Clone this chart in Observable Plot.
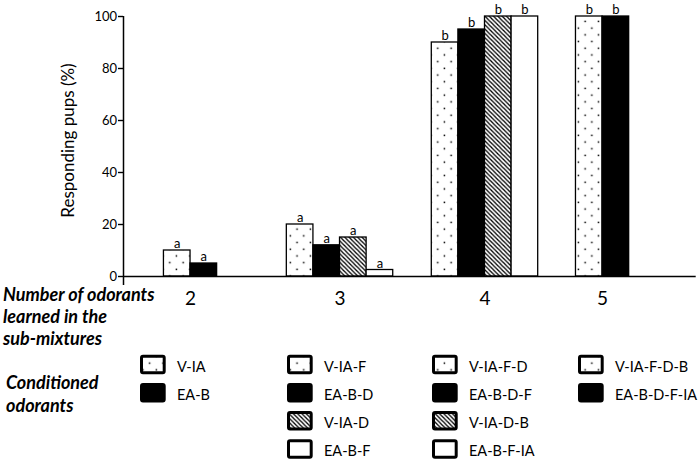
<!DOCTYPE html>
<html>
<head>
<meta charset="utf-8">
<script src="https://cdn.jsdelivr.net/npm/d3@7"></script>
<script src="https://cdn.jsdelivr.net/npm/@observablehq/plot@0.6"></script>
<style>
  html, body { margin: 0; padding: 0; background: white; }
  #wrap { position: relative; width: 700px; height: 464px; overflow: hidden; font-family: Lato, sans-serif; }
  #overlay { position: absolute; left: 0; top: 0; pointer-events: none; }
</style>
</head>
<body>
<div id="wrap"></div>
<script>
// ---- data ----
const groups = ["2", "3", "4", "5"];
const patterns = ["dots", "black", "hatch", "white"];
const conditioned = [
  ["V-IA", "EA-B"],
  ["V-IA-F", "EA-B-D", "V-IA-D", "EA-B-F"],
  ["V-IA-F-D", "EA-B-D-F", "V-IA-D-B", "EA-B-F-IA"],
  ["V-IA-F-D-B", "EA-B-D-F-IA"]
];
const values = [
  [10, 5],
  [20, 12, 15, 2.5],
  [90, 95, 100, 100],
  [100, 100]
];
const letters = [
  ["a", "a"],
  ["a", "a", "a", "a"],
  ["b", "b", "b", "b"],
  ["b", "b"]
];
const yTicks = [0, 20, 40, 60, 80, 100];
const yLabel = "Responding pups (%)";
const xTitle = ["Number of odorants", "learned in the", "sub-mixtures"];
const legendTitle = ["Conditioned", "odorants"];

// ---- layout (bar slot units) ----
const layout = { groupCenter: [2.52, 8.14, 13.59, 18.01], xMax: 21.53 };
const fillFor = { dots: "url(#pat-dots)", black: "black", hatch: "url(#pat-hatch)", white: "white" };

const rows = [];
groups.forEach((g, gi) => {
  const n = values[gi].length;
  values[gi].forEach((v, i) => {
    const x1 = layout.groupCenter[gi] - n / 2 + i;
    rows.push({ group: g, pattern: patterns[i], name: conditioned[gi][i], value: v, letter: letters[gi][i], x1, x2: x1 + 1 });
  });
});

const wrap = document.getElementById("wrap");

const chart = Plot.plot({
  width: 700, height: 310,
  marginLeft: 123, marginRight: 4.3, marginTop: 16, marginBottom: 34,
  style: { fontFamily: "Lato, sans-serif", fontSize: "13px", color: "black", background: "white", overflow: "visible" },
  x: { domain: [0, layout.xMax], axis: null },
  y: { domain: [0, 100], axis: null },
  marks: [
    Plot.axisY({ ticks: yTicks, tickSize: 5, tickPadding: 1.5, label: null, fontSize: 13, strokeWidth: 1.4 }),
    ...patterns.map(p => Plot.rect(rows.filter(d => d.pattern === p), {
      x1: "x1", x2: "x2", y1: 0, y2: "value",
      fill: fillFor[p], stroke: "black", strokeWidth: 1.3
    })),
    Plot.ruleY([0], { stroke: "black", strokeWidth: 1.5 }),
    Plot.ruleX([0], { y1: -3.5, y2: 100, stroke: "black", strokeWidth: 1.5 }),
    Plot.text(rows, { x: d => (d.x1 + d.x2) / 2, y: "value", text: "letter", dy: -6.3, fontSize: 13, fill: "black" }),
    Plot.text(groups, { x: (d, i) => layout.groupCenter[i], y: () => 0, text: d => d, dy: 22, fontSize: 19, fill: "black" }),
    Plot.text([yLabel], { frameAnchor: "left", textAnchor: "middle", lineAnchor: "middle", text: d => d, rotate: -90, dx: -55, dy: -6, fontSize: 17, fill: "black" })
  ]
});
wrap.appendChild(chart);

// ---- overlay: patterns, side titles, legend ----
const svg = d3.select(wrap).append("svg")
  .attr("id", "overlay").attr("width", 700).attr("height", 464);
const defs = svg.append("defs");
const pd = defs.append("pattern").attr("id", "pat-dots").attr("patternUnits", "userSpaceOnUse")
  .attr("width", 13.4).attr("height", 13.4).attr("x", 0.9).attr("y", 0);
pd.append("rect").attr("width", 13.4).attr("height", 13.4).attr("fill", "white");
pd.append("rect").attr("x", 0.6).attr("y", 0.6).attr("width", 1.5).attr("height", 1.5).attr("fill", "black");
pd.append("rect").attr("x", 7.3).attr("y", 7.3).attr("width", 1.5).attr("height", 1.5).attr("fill", "black");
const ph = defs.append("pattern").attr("id", "pat-hatch").attr("patternUnits", "userSpaceOnUse")
  .attr("width", 4.3).attr("height", 4.3);
ph.append("rect").attr("width", 4.3).attr("height", 4.3).attr("fill", "white");
ph.append("path").attr("d", "M-1,-1L5.3,5.3M-1,3.3L1,5.3M3.3,-1L5.3,1").attr("stroke", "black").attr("stroke-width", 1.3);

const boldItalic = sel => sel.attr("font-family", "Lato, sans-serif").attr("font-weight", "bold")
  .attr("font-style", "italic").attr("font-size", 18).attr("fill", "black");
xTitle.forEach((t, i) => svg.append("text").attr("x", 3).attr("y", 301 + i * 22).text(t).call(boldItalic));
legendTitle.forEach((t, i) => svg.append("text").attr("x", 6).attr("y", 389.3 + i * 22.4).text(t).call(boldItalic));

const legendCols = [140, 287, 432, 578];
const legendRow0 = 364.6, legendStep = 28.1;
conditioned.forEach((names, gi) => {
  names.forEach((name, i) => {
    const cx = legendCols[gi], cy = legendRow0 + i * legendStep;
    svg.append("rect").attr("x", cx + 1.5).attr("y", cy - 9.75 + 1.5).attr("width", 22.7).attr("height", 16.5)
      .attr("rx", 1.5).attr("fill", fillFor[patterns[i]]).attr("stroke", "black").attr("stroke-width", 3);
    svg.append("text").attr("x", cx + 37).attr("y", cy + 7).text(name)
      .attr("font-family", "Lato, sans-serif").attr("font-size", 14.5).attr("fill", "black");
  });
});
</script>
</body>
</html>
